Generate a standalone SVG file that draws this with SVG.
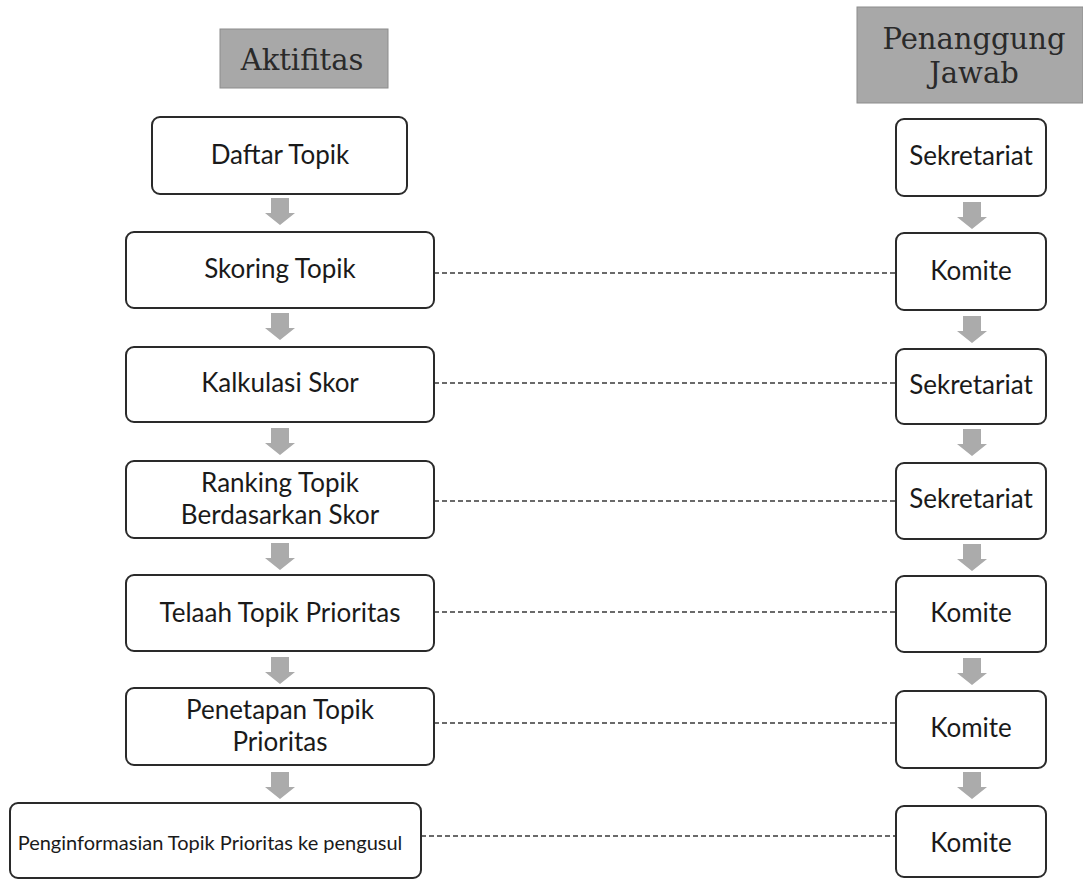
<svg xmlns="http://www.w3.org/2000/svg" width="1083" height="880" viewBox="0 0 1083 880">
<style>
.hdr{fill:#a8a8a8;stroke:#8c8c8c;stroke-width:1}
.ht{font-family:"DejaVu Serif","Liberation Serif",serif;font-size:29px;fill:#2a2a2a;text-anchor:middle}
.box{fill:#fff;stroke:#2a2a2a;stroke-width:2}
.t{font-family:Lato,"Liberation Sans",sans-serif;font-size:26px;fill:#1a1a1a;text-anchor:middle}
.arr{fill:#ababab}
.dash{stroke:#3a3a3a;stroke-width:1.5;stroke-dasharray:5 3;fill:none}
</style>
<defs>
<path id="ar" class="arr" d="M-9 0 h18 v15 h6 l-15 12 l-15 -12 h6 z"/>
</defs>
<rect width="1083" height="880" fill="#fff"/>
<g id="h1"><rect class="hdr" x="220" y="29" width="168" height="59"/><text class="ht" x="302" y="70">Aktifitas</text></g>
<g id="h2"><rect class="hdr" x="857" y="7" width="226" height="96"/><text class="ht" x="974" y="49">Penanggung</text><text class="ht" x="974" y="83">Jawab</text></g>

<g id="connectors">
<use href="#ar" x="280" y="198"/><use href="#ar" x="280" y="313"/><use href="#ar" x="280" y="428"/>
<use href="#ar" x="280" y="543"/><use href="#ar" x="280" y="657"/><use href="#ar" x="280" y="772"/>
<use href="#ar" x="972" y="202"/><use href="#ar" x="972" y="316"/><use href="#ar" x="972" y="429"/>
<use href="#ar" x="972" y="544"/><use href="#ar" x="972" y="658"/><use href="#ar" x="972" y="772"/>
<line class="dash" x1="434" y1="273" x2="896" y2="273"/>
<line class="dash" x1="434" y1="383" x2="896" y2="383"/>
<line class="dash" x1="434" y1="501" x2="896" y2="501"/>
<line class="dash" x1="434" y1="612" x2="896" y2="612"/>
<line class="dash" x1="434" y1="723" x2="896" y2="723"/>
<line class="dash" x1="421" y1="836" x2="896" y2="836"/>
</g>

<g id="a1"><rect class="box" x="152" y="117" width="255" height="77" rx="8"/><text class="t" x="280" y="164">Daftar Topik</text></g>
<g id="a2"><rect class="box" x="126" y="232" width="308" height="76" rx="8"/><text class="t" x="280" y="278">Skoring Topik</text></g>
<g id="a3"><rect class="box" x="126" y="347" width="308" height="75" rx="8"/><text class="t" x="280" y="392">Kalkulasi Skor</text></g>
<g id="a4"><rect class="box" x="126" y="461" width="308" height="77" rx="8"/><text class="t" x="280" y="492">Ranking Topik</text><text class="t" x="280" y="524">Berdasarkan Skor</text></g>
<g id="a5"><rect class="box" x="126" y="575" width="308" height="76" rx="8"/><text class="t" x="280" y="622">Telaah Topik Prioritas</text></g>
<g id="a6"><rect class="box" x="126" y="688" width="308" height="77" rx="8"/><text class="t" x="280" y="719">Penetapan Topik</text><text class="t" x="280" y="751">Prioritas</text></g>
<g id="a7"><rect class="box" x="10" y="803" width="411" height="75" rx="8"/><text class="t" x="210" y="850" style="font-size:20px">Penginformasian Topik Prioritas ke pengusul</text></g>

<g id="r1"><rect class="box" x="896" y="119" width="150" height="77" rx="8"/><text class="t" x="971" y="165">Sekretariat</text></g>
<g id="r2"><rect class="box" x="896" y="233" width="150" height="77" rx="8"/><text class="t" x="971" y="280">Komite</text></g>
<g id="r3"><rect class="box" x="896" y="349" width="150" height="75" rx="8"/><text class="t" x="971" y="394">Sekretariat</text></g>
<g id="r4"><rect class="box" x="896" y="463" width="150" height="76" rx="8"/><text class="t" x="971" y="508">Sekretariat</text></g>
<g id="r5"><rect class="box" x="896" y="576" width="150" height="76" rx="8"/><text class="t" x="971" y="622">Komite</text></g>
<g id="r6"><rect class="box" x="896" y="691" width="150" height="77" rx="8"/><text class="t" x="971" y="737">Komite</text></g>
<g id="r7"><rect class="box" x="896" y="806" width="150" height="71" rx="8"/><text class="t" x="971" y="852">Komite</text></g>
</svg>
